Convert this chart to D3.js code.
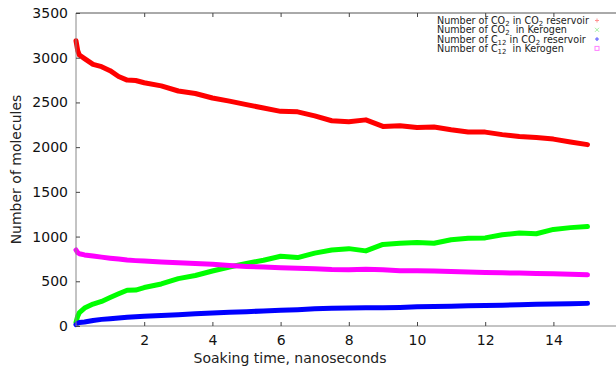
<!DOCTYPE html>
<html>
<head>
<meta charset="utf-8">
<script src="https://cdn.jsdelivr.net/npm/d3@7"></script>
<style>
  body { margin: 0; background: #fff; }
  text { font-family: "DejaVu Sans", sans-serif; white-space: pre; }
</style>
</head>
<body>
<div id="chart"></div>
<script>
// time axis (ns)
var times = [0, 0.05, 0.1, 0.25, 0.5, 0.75, 1, 1.25, 1.5, 1.75, 2, 2.5, 3, 3.5, 4, 4.5, 5, 5.5, 6, 6.5,
  7, 7.5, 8, 8.5, 9, 9.5, 10, 10.5, 11, 11.5, 12, 12.5, 13, 13.5, 14, 14.5, 15];

// Number of CO2 in CO2 reservoir
var co2Reservoir = [3190, 3080, 3030, 2990, 2925, 2900, 2855, 2790, 2750, 2745, 2720, 2685, 2628, 2600, 2550, 2515,
  2475, 2438, 2400, 2395, 2350, 2295, 2285, 2305, 2232, 2240, 2220, 2225, 2195, 2170, 2168, 2140, 2118, 2108,
  2090, 2058, 2028];
// Number of CO2 in Kerogen
var co2Kerogen = [40, 110, 150, 200, 245, 275, 318, 360, 400, 402, 430, 470, 530, 565, 615, 660, 700, 735, 780, 765,
  815, 850, 865, 840, 912, 925, 935, 925, 965, 980, 985, 1020, 1040, 1032, 1080, 1100, 1112];
// Number of C12 in CO2 reservoir
var c12Reservoir = [15, 30, 38, 45, 62, 74, 82, 90, 98, 104, 108, 118, 127, 137, 145, 153, 160, 168, 175, 183,
  193, 198, 202, 205, 205, 208, 214, 217, 222, 226, 229, 233, 238, 242, 245, 248, 253];
// Number of C12 in Kerogen
var c12Kerogen = [850, 820, 808, 795, 782, 770, 758, 748, 738, 731, 726, 716, 708, 698, 690, 676, 666, 659, 652, 646,
  640, 632, 630, 634, 628, 618, 618, 616, 610, 603, 599, 595, 592, 588, 583, 578, 572];

var xTicks = [2, 4, 6, 8, 10, 12, 14];
var yTicks = [0, 500, 1000, 1500, 2000, 2500, 3000, 3500];

var series = [
  { values: co2Reservoir, color: '#ff0000', pre: 'Number of CO', sub: '2', mid: ' in CO', sub2: '2', post: ' reservoir', mark: 'plus', mcol: '#ff9090' },
  { values: co2Kerogen, color: '#00ff00', pre: 'Number of CO', sub: '2', mid: '  in Kerogen', mark: 'x', mcol: '#a0f0a0' },
  { values: c12Reservoir, color: '#0000ff', pre: 'Number of C', sub: '12', mid: ' in CO', sub2: '2', post: ' reservoir', mark: 'star', mcol: '#8080ff' },
  { values: c12Kerogen, color: '#ff00ff', pre: 'Number of C', sub: '12', mid: '  in Kerogen', mark: 'square', mcol: '#ff80ff' }
];

var width = 616, height = 366;
var plotLeft = 76, plotTop = 13, plotBottom = 326;

var svg = d3.select('#chart').append('svg')
  .attr('width', width).attr('height', height);

var x = d3.scaleLinear().domain([0, 16]).range([plotLeft, plotLeft + 8 * 68.2]);
var y = d3.scaleLinear().domain([0, 3500]).range([plotBottom, plotTop]);

// lines
var line = d3.line()
  .x(function(d, i) { return x(times[i]); })
  .y(function(d) { return y(d); });

series.forEach(function(s) {
  svg.append('path')
    .datum(s.values)
    .attr('d', line)
    .attr('fill', 'none')
    .attr('stroke', s.color)
    .attr('stroke-width', 5)
    .attr('stroke-linejoin', 'round')
    .attr('stroke-linecap', 'round');
});

// frame
svg.append('line').attr('x1', plotLeft).attr('x2', width).attr('y1', plotTop).attr('y2', plotTop).attr('stroke', '#555');
svg.append('line').attr('x1', plotLeft).attr('x2', width).attr('y1', plotBottom).attr('y2', plotBottom).attr('stroke', '#888');
svg.append('line').attr('x1', plotLeft).attr('x2', plotLeft).attr('y1', plotTop).attr('y2', plotBottom).attr('stroke', '#888');

// axes (ticks inward)
var xAxis = svg.append('g').attr('transform', 'translate(0,' + plotBottom + ')')
  .call(d3.axisBottom(x).tickValues(xTicks).tickSize(-4).tickPadding(9).tickFormat(d3.format('d')));
var xTop = svg.append('g').attr('transform', 'translate(0,' + plotTop + ')')
  .call(d3.axisTop(x).tickValues(xTicks).tickSize(-4).tickFormat(''));
var yAxis = svg.append('g').attr('transform', 'translate(' + plotLeft + ',0)')
  .call(d3.axisLeft(y).tickValues(yTicks).tickSize(-4).tickPadding(8).tickFormat(d3.format('d')));

[xAxis, xTop, yAxis].forEach(function(g) {
  g.select('.domain').remove();
  g.selectAll('.tick line').attr('stroke', '#444');
  g.selectAll('.tick text').attr('fill', '#111').style('font-size', '14px').style('font-family', 'DejaVu Sans');
});

// axis titles
svg.append('text').attr('x', 290).attr('y', 363).attr('text-anchor', 'middle')
  .attr('fill', '#222').style('font-size', '14px').text('Soaking time, nanoseconds');
svg.append('text').attr('transform', 'translate(21,' + ((plotTop + plotBottom) / 2) + ') rotate(-90)')
  .attr('text-anchor', 'middle').attr('fill', '#222').style('font-size', '14px').text('Number of molecules');

// legend
var legend = svg.append('g');
series.forEach(function(s, i) {
  var yy = 24 + i * 9.3;
  var t = legend.append('text').attr('x', 437).attr('y', yy).attr('fill', '#222').style('font-size', '9.6px');
  t.append('tspan').text(s.pre);
  t.append('tspan').attr('dy', 2).style('font-size', '7px').text(s.sub);
  t.append('tspan').attr('dy', -2).text(s.mid);
  if (s.sub2) {
    t.append('tspan').attr('dy', 2).style('font-size', '7px').text(s.sub2);
    t.append('tspan').attr('dy', -2).text(s.post);
  }
  var mx = 597, my = yy - 3.5;
  var g = legend.append('g').attr('stroke', s.mcol).attr('fill', 'none').attr('stroke-width', 1);
  if (s.mark === 'plus') {
    g.append('path').attr('d', 'M' + (mx - 2) + ',' + my + 'h4M' + mx + ',' + (my - 2) + 'v4');
  } else if (s.mark === 'x') {
    g.append('path').attr('d', 'M' + (mx - 2) + ',' + (my - 2) + 'l4,4M' + (mx - 2) + ',' + (my + 2) + 'l4,-4');
  } else if (s.mark === 'star') {
    g.append('circle').attr('cx', mx).attr('cy', my).attr('r', 1.3).attr('fill', s.mcol);
  } else {
    g.append('rect').attr('x', mx - 2).attr('y', my - 2).attr('width', 4).attr('height', 4);
  }
});
</script>
</body>
</html>
